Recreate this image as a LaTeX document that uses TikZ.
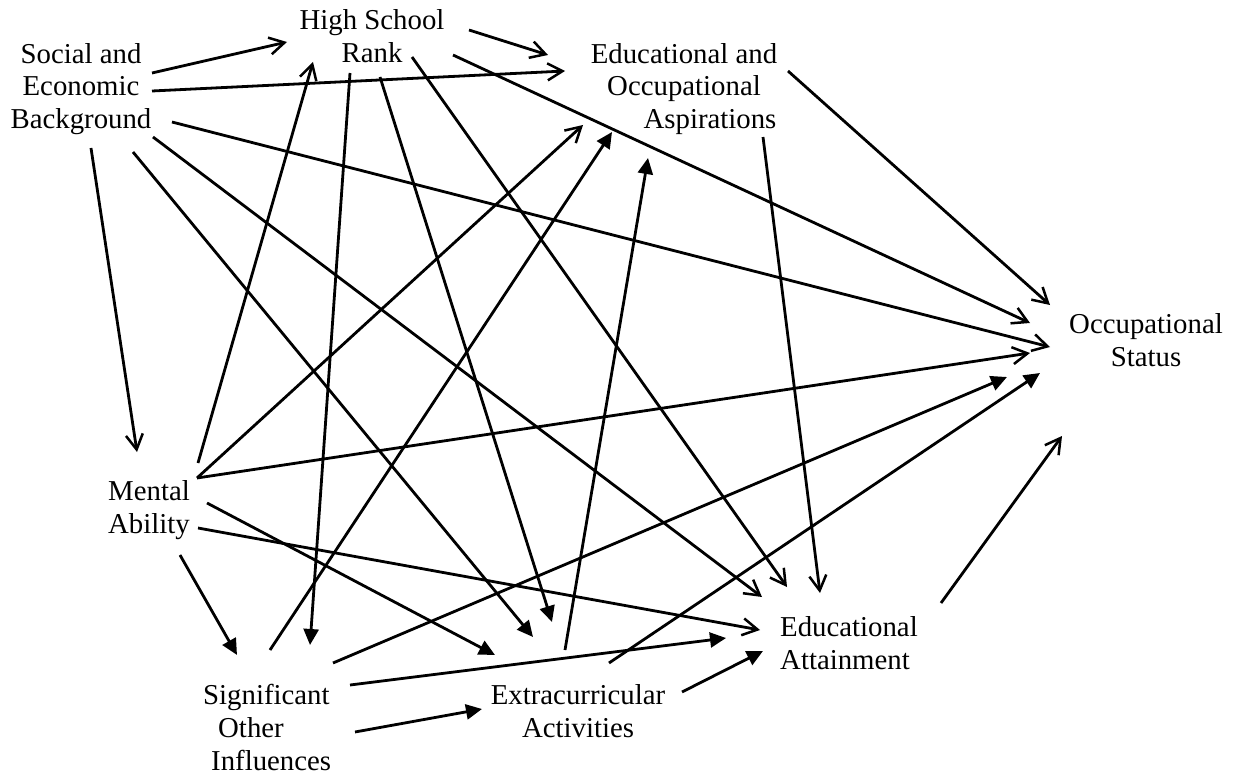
\documentclass[tikz,border=0pt]{standalone}
\usepackage{fontspec}
\setmainfont{Liberation Serif}
\usetikzlibrary{arrows.meta}
\tikzset{
  lbl/.style={inner sep=0pt, font=\fontsize{28.8}{33}\selectfont},
  conn/.style={line width=2.8pt},
  openarr/.style={conn, -{Straight Barb[length=15pt, width=17pt, line width=2.5pt]}},
  fillarr/.style={conn, -{Triangle[length=16pt, width=15pt]}},
}
\begin{document}
\begin{tikzpicture}[x=1pt, y=-1pt]
\useasboundingbox (0,0) rectangle (1235,781);
% labels (anchored at the baseline of their last line)
\node[lbl, align=center, anchor=base] (seb) at (81,129) {Social and\\Economic\\Background};
\node[lbl, align=center, anchor=base] (hsr) at (372,63) {High School\\Rank};
\node[lbl, align=center, anchor=base] (eoa) at (684,129) {Educational and\\Occupational\\\hspace*{52pt}Aspirations};
\node[lbl, align=center, anchor=base] (os) at (1146,366) {Occupational\\Status};
\node[lbl, align=center, anchor=base] (ma) at (149,533) {Mental\\Ability};
\node[lbl, align=left, anchor=base west] (soi) at (203,770) {Significant\\\hspace*{15pt}Other\\\hspace*{8pt}Influences};
\node[lbl, align=center, anchor=base] (ea) at (578,737) {Extracurricular\\Activities};
\node[lbl, align=left, anchor=base west] (eat) at (780,669) {Educational\\Attainment};
% connector end points
\coordinate (seb-hsr-s) at (152,73);   \coordinate (seb-hsr-e) at (287,42);
\coordinate (seb-eoa-s) at (152,91);   \coordinate (seb-eoa-e) at (565,71);
\coordinate (seb-os-s) at (172,122);   \coordinate (seb-os-e) at (1050,347);
\coordinate (seb-ma-s) at (91,148);    \coordinate (seb-ma-e) at (137,452);
\coordinate (seb-eat-s) at (153,137);  \coordinate (seb-eat-e) at (762,597);
\coordinate (hsr-eoa-s) at (469,30);   \coordinate (hsr-eoa-e) at (548,55);
\coordinate (hsr-os-s) at (453,55);    \coordinate (hsr-os-e) at (1030,323);
\coordinate (hsr-eat-s) at (412,57);   \coordinate (hsr-eat-e) at (787,587);
\coordinate (eoa-os-s) at (788,71);    \coordinate (eoa-os-e) at (1050,305);
\coordinate (eoa-eat-s) at (763,137);  \coordinate (eoa-eat-e) at (820,593);
\coordinate (ma-hsr-s) at (198,463);   \coordinate (ma-hsr-e) at (313,62);
\coordinate (ma-eoa-s) at (197,478);   \coordinate (ma-eoa-e) at (583,125);
\coordinate (ma-os-s) at (197,478);    \coordinate (ma-os-e) at (1030,353);
\coordinate (ma-eat-s) at (198,528);   \coordinate (ma-eat-e) at (760,630);
\coordinate (eat-os-s) at (941,603);   \coordinate (eat-os-e) at (1062,436);
\coordinate (seb-ea-s) at (133,152);   \coordinate (seb-ea-e) at (533,637);
\coordinate (hsr-ea-s) at (380,77);    \coordinate (hsr-ea-e) at (552,622);
\coordinate (hsr-soi-s) at (350,73);   \coordinate (hsr-soi-e) at (310,645);
\coordinate (ma-ea-s) at (207,503);    \coordinate (ma-ea-e) at (495,655);
\coordinate (ma-soi-s) at (180,555);   \coordinate (ma-soi-e) at (237,655);
\coordinate (soi-eoa-s) at (270,650);  \coordinate (soi-eoa-e) at (612,132);
\coordinate (soi-os-s) at (333,663);   \coordinate (soi-os-e) at (1007,377);
\coordinate (soi-eat-s) at (350,685);  \coordinate (soi-eat-e) at (726,638);
\coordinate (soi-ea-s) at (355,732);   \coordinate (soi-ea-e) at (482,709);
\coordinate (ea-eoa-s) at (565,650);   \coordinate (ea-eoa-e) at (648,158);
\coordinate (ea-os-s) at (609,663);    \coordinate (ea-os-e) at (1040,373);
\coordinate (ea-eat-s) at (682,692);   \coordinate (ea-eat-e) at (763,651);
% open-headed connectors
\foreach \p in {seb-hsr,seb-eoa,seb-os,seb-ma,seb-eat,hsr-eoa,hsr-os,hsr-eat,eoa-os,eoa-eat,ma-hsr,ma-eoa,ma-os,ma-eat,eat-os}
  \draw[openarr] (\p-s) -- (\p-e);
% filled-headed connectors
\foreach \p in {seb-ea,hsr-ea,hsr-soi,ma-ea,ma-soi,soi-eoa,soi-os,soi-eat,soi-ea,ea-eoa,ea-os,ea-eat}
  \draw[fillarr] (\p-s) -- (\p-e);
\end{tikzpicture}
\end{document}
